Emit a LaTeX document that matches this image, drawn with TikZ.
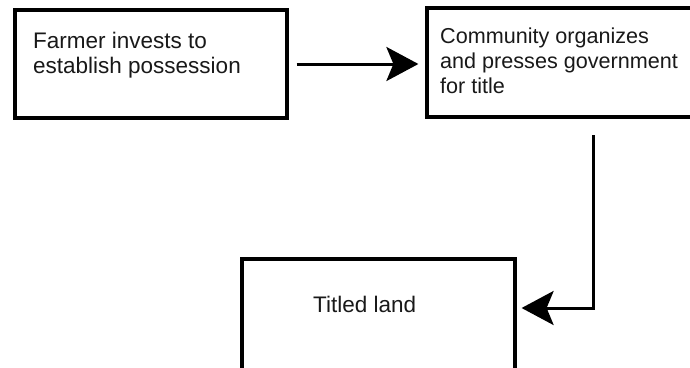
\documentclass[tikz,border=0pt]{standalone}
\usepackage{fontspec}
\setmainfont{Liberation Sans}
\usetikzlibrary{arrows.meta}
\tikzset{
  box/.style={draw=black, line width=3.2pt, rectangle, inner sep=0pt},
  lbl/.style={anchor=base west, inner sep=0pt, align=left, text=black!90,
              font=\fontsize{22.5}{25}\selectfont},
  arr/.style={line width=3pt, -{Stealth[length=32pt,width=34pt,inset=7pt]}}
}
\begin{document}
\begin{tikzpicture}[x=1pt,y=-1pt]
\clip (0,0) rectangle (690,367);
\fill[white] (0,0) rectangle (690,367);
\node[box, minimum width=272pt, minimum height=108pt] (b1) at (151,64) {};
\node[box, minimum width=268pt, minimum height=109pt] (b2) at (561,62.5) {};
\node[box, minimum width=273pt, minimum height=113pt] (b3) at (378.5,315.5) {};
\node[lbl] (t1) at (33,73) {Farmer invests to\\establish possession};
\node[lbl, font=\fontsize{21.6}{25}\selectfont] (t2) at (440,93) {Community organizes\\and presses government\\for title};
\node[lbl] (t3) at (313,312) {Titled land};
\coordinate (c1) at (593,135);
\draw[arr, shorten <=8pt, shorten >=7pt] (b1.east) -- (b1.east -| b2.west);
\draw[arr, shorten >=5pt] (c1) |- ([yshift=7.5pt]b3.east);
\end{tikzpicture}
\end{document}
